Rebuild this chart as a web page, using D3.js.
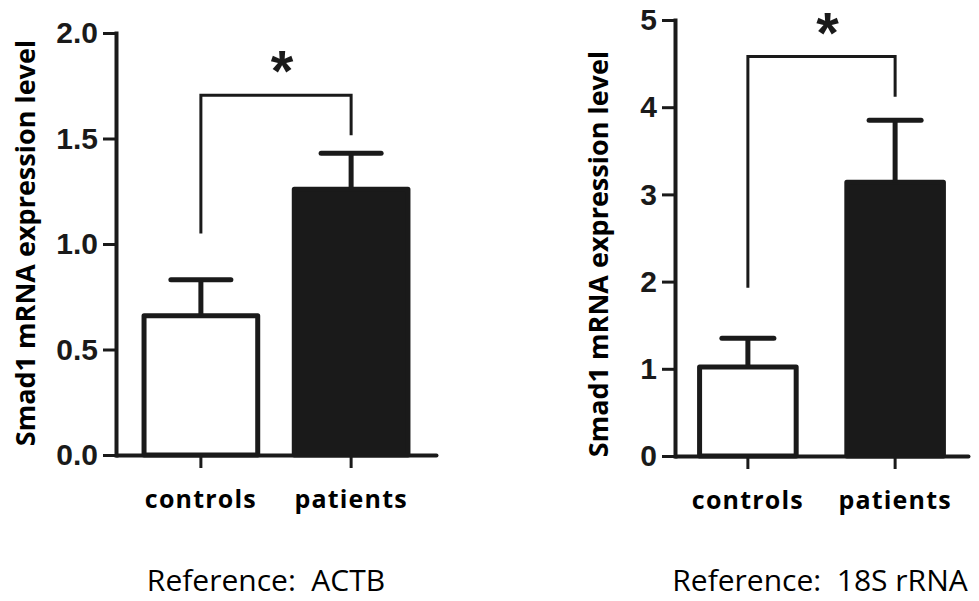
<!DOCTYPE html>
<html>
<head>
<meta charset="utf-8">
<script src="https://cdn.jsdelivr.net/npm/d3@7"></script>
<style>
  html, body { margin: 0; padding: 0; background: #fff; }
  svg { display: block; }
</style>
</head>
<body>
<svg id="chart" width="979" height="601"></svg>
<script>
// ---- data ----
const categories = ["controls", "patients"];
const actbMeans = [0.66, 1.26];
const actbErrors = [0.17, 0.17];
const rrnaMeans = [1.02, 3.14];
const rrnaErrors = [0.33, 0.71];
const actbTicks = [0, 0.5, 1.0, 1.5, 2.0];
const actbTickLabels = ["0.0", "0.5", "1.0", "1.5", "2.0"];
const rrnaTicks = [0, 1, 2, 3, 4, 5];
const rrnaTickLabels = ["0", "1", "2", "3", "4", "5"];
// significance bracket: [left leg bottom, top, right leg bottom]
const actbBracket = [1.05, 1.705, 1.515];
const rrnaBracket = [1.93, 4.58, 4.12];
const actbDomain = [0, 2];
const rrnaDomain = [0, 5];
const yTitle = "Smad1 mRNA expression level";
const sigMark = "*";
const referenceLabels = ["Reference:  ACTB", "Reference:  18S rRNA"];

// ---- layout (styles & positions only) ----
const INK = "#1a1a1a";
const panels = [
  { means: actbMeans, errors: actbErrors, ticks: actbTicks, tickLabels: actbTickLabels,
    bracket: actbBracket, domain: actbDomain, ref: referenceLabels[0],
    x0: 116, x1: 436, y0: 455, y1: 33, padIn: 0.21, padOut: 0.17, capW: 60,
    titleX: 24, titleY: 243, refX: 266, refY: 591 },
  { means: rrnaMeans, errors: rrnaErrors, ticks: rrnaTicks, tickLabels: rrnaTickLabels,
    bracket: rrnaBracket, domain: rrnaDomain, ref: referenceLabels[1],
    x0: 675, x1: 968, y0: 456, y1: 20, padIn: 0.31, padOut: 0.15, capW: 52,
    titleX: 597, titleY: 254, refX: 820, refY: 591 }
];

const svg = d3.select("#chart");

panels.forEach(p => {
  const g = svg.append("g");
  const x = d3.scaleBand().domain(categories).range([p.x0, p.x1])
    .paddingInner(p.padIn).paddingOuter(p.padOut);
  const y = d3.scaleLinear().domain(p.domain).range([p.y0, p.y1]);
  const bw = x.bandwidth();
  const sw = 5;

  // bars
  g.selectAll("rect.bar").data(categories).join("rect")
    .attr("class", "bar")
    .attr("x", d => x(d) + sw / 2)
    .attr("width", bw - sw)
    .attr("y", (d, i) => y(p.means[i]))
    .attr("height", (d, i) => y(0) - y(p.means[i]))
    .attr("fill", (d, i) => i === 0 ? "#fff" : INK)
    .attr("stroke", INK)
    .attr("stroke-width", sw)
    .attr("stroke-linejoin", "round");

  // error bars
  categories.forEach((c, i) => {
    const cx = x(c) + bw / 2;
    const top = y(p.means[i] + p.errors[i]);
    g.append("line").attr("x1", cx).attr("x2", cx)
      .attr("y1", y(p.means[i])).attr("y2", top)
      .attr("stroke", INK).attr("stroke-width", 5);
    g.append("line").attr("x1", cx - p.capW / 2).attr("x2", cx + p.capW / 2)
      .attr("y1", top).attr("y2", top)
      .attr("stroke", INK).attr("stroke-width", 5).attr("stroke-linecap", "round");
  });

  // significance bracket
  const bxL = x(categories[0]) + bw / 2;
  const bxR = x(categories[1]) + bw / 2;
  g.append("path")
    .attr("d", d3.line()([[bxL, y(p.bracket[0])], [bxL, y(p.bracket[1])],
                          [bxR, y(p.bracket[1])], [bxR, y(p.bracket[2])]]))
    .attr("fill", "none").attr("stroke", INK).attr("stroke-width", 3);
  g.append("text")
    .attr("x", (bxL + bxR) / 2 + 6)
    .attr("y", y(p.bracket[1]) - 4)
    .attr("text-anchor", "middle")
    .attr("font-family", "'Liberation Sans', Arial, sans-serif")
    .attr("font-weight", "bold")
    .attr("font-size", 58)
    .attr("fill", INK)
    .text(sigMark);

  // y axis
  const yAxis = d3.axisLeft(y).tickValues(p.ticks)
    .tickFormat((d, i) => p.tickLabels[i])
    .tickSize(13).tickPadding(5).tickSizeOuter(0);
  const ya = g.append("g").attr("transform", `translate(${p.x0},0)`).call(yAxis);
  ya.select(".domain").attr("stroke", INK).attr("stroke-width", 4).attr("stroke-linecap", "square");
  ya.selectAll(".tick line").attr("stroke", INK).attr("stroke-width", 3);
  ya.selectAll(".tick text")
    .attr("font-family", "'Liberation Sans', Arial, sans-serif")
    .attr("font-weight", "bold").attr("font-size", 30).attr("fill", INK);

  // x axis
  const xAxis = d3.axisBottom(x).tickSize(13).tickSizeOuter(0);
  const xa = g.append("g").attr("transform", `translate(0,${p.y0})`).call(xAxis);
  xa.select(".domain").attr("stroke", INK).attr("stroke-width", 4).attr("stroke-linecap", "round");
  xa.selectAll(".tick line").attr("stroke", INK).attr("stroke-width", 3);
  xa.selectAll(".tick text")
    .attr("y", 53).attr("dy", 0)
    .attr("font-family", "'Open Sans', sans-serif")
    .attr("font-weight", "bold").attr("font-size", 25)
    .attr("letter-spacing", 1.2)
    .attr("fill", "#000");

  // y title
  g.append("text")
    .attr("transform", `translate(${p.titleX},${p.titleY}) rotate(-90)`)
    .attr("text-anchor", "middle")
    .attr("dominant-baseline", "central")
    .attr("font-family", "'Open Sans', sans-serif")
    .attr("font-weight", "bold")
    .attr("font-size", 27)
    .attr("fill", "#000")
    .text(yTitle);

  // reference label
  g.append("text")
    .attr("x", p.refX).attr("y", p.refY)
    .attr("text-anchor", "middle")
    .attr("font-family", "'Open Sans', sans-serif")
    .attr("font-size", 30)
    .attr("fill", "#000")
    .style("white-space", "pre")
    .text(p.ref);
});
</script>
</body>
</html>
